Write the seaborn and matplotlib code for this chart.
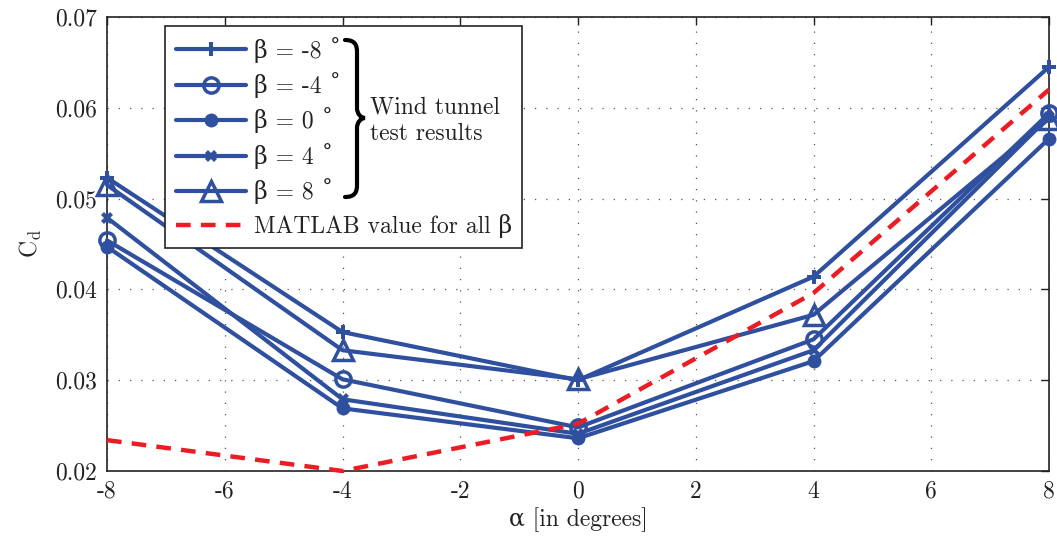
import numpy as np
import pandas as pd
import matplotlib
matplotlib.use("Agg")
import matplotlib.pyplot as plt
import seaborn as sns
from matplotlib.path import Path
from matplotlib.patches import PathPatch
from matplotlib.ticker import FormatStrFormatter

alpha = [-8, -4, 0, 4, 8]
cd_beta_m8 = [0.0523, 0.0353, 0.0300, 0.0414, 0.0645]
cd_beta_m4 = [0.0454, 0.0301, 0.0248, 0.0345, 0.0594]
cd_beta_0 = [0.0447, 0.0269, 0.0236, 0.0321, 0.0566]
cd_beta_4 = [0.0479, 0.0279, 0.0241, 0.0333, 0.0590]
cd_beta_8 = [0.0515, 0.0333, 0.0301, 0.0372, 0.0588]
cd_matlab = [0.0234, 0.0200, 0.0252, 0.0396, 0.0620]

labels = ['β = -8 ˚', 'β = -4 ˚', 'β = 0 ˚', 'β = 4 ˚', 'β = 8 ˚']
matlab_label = 'MATLAB value for all β'
brace_text = "Wind tunnel\ntest results"

sns.set_theme(style="white")
plt.rcParams['font.family'] = ['cmr10', 'DejaVu Serif', 'DejaVu Sans']
plt.rcParams['mathtext.fontset'] = 'cm'
plt.rcParams['axes.unicode_minus'] = False
plt.rcParams['axes.formatter.use_mathtext'] = True

BLUE = '#2f4f9f'
RED = '#ec1c24'
FS = 17
TXT = '#222222'

W, H = 1057, 536
fig = plt.figure(figsize=(W / 100, H / 100), dpi=100)
L, R, T, B = 107, 1049, 17, 471
ax = fig.add_axes([L / W, 1 - B / H, (R - L) / W, (B - T) / H])

series = [cd_beta_m8, cd_beta_m4, cd_beta_0, cd_beta_4, cd_beta_8]
styles = [
    dict(marker='P', markersize=10, fillstyle='full', mew=0),
    dict(marker='o', markersize=11, fillstyle='none', mew=2.5),
    dict(marker='o', markersize=10, fillstyle='full', mew=0),
    dict(marker='X', markersize=9, fillstyle='full', mew=0),
    dict(marker='^', markersize=15, fillstyle='none', mew=2.5),
]
for vals, lab, st in zip(series, labels, styles):
    sns.lineplot(x=alpha, y=vals, ax=ax, color=BLUE, lw=3, label=lab,
                 markeredgecolor=BLUE, markerfacecolor=BLUE if st['fillstyle'] == 'full' else 'none',
                 marker=st['marker'], markersize=st['markersize'], markeredgewidth=st['mew'],
                 clip_on=False, zorder=3)
sns.lineplot(x=alpha, y=cd_matlab, ax=ax, color=RED, lw=3.2, label=matlab_label,
             linestyle=(0, (3.3, 2.3)), clip_on=False, zorder=3)

ax.set_xlim(-8, 8)
ax.set_ylim(0.02, 0.07)
ax.set_xticks(np.arange(-8, 9, 2))
ax.set_yticks(np.arange(0.02, 0.0701, 0.01))
ax.xaxis.set_major_formatter(FormatStrFormatter('%d'))
ax.yaxis.set_major_formatter(FormatStrFormatter('%.2f'))
ax.tick_params(direction='in', length=6, width=1, top=True, right=True,
               labelsize=FS, colors=TXT, pad=7)
ax.grid(True, linestyle=(0, (1, 8)), color='#555555', lw=0.9)
for s in ax.spines.values():
    s.set_visible(True)
    s.set_color(TXT)
    s.set_linewidth(1.2)
ax.set_xlabel('α [in degrees]', fontsize=FS, color=TXT, labelpad=3)
ax.set_ylabel(r'C$_\mathrm{d}$', fontsize=FS, color=TXT, labelpad=8)

def px2ax(px, py):
    return ((px - L) / (R - L), (B - py) / (B - T))

leg = ax.legend(loc='upper left', bbox_to_anchor=px2ax(165, 26), borderaxespad=0,
                fontsize=FS, frameon=True, fancybox=False, edgecolor=TXT,
                handlelength=3.0, handletextpad=0.3, labelspacing=0.4,
                borderpad=0.45)
leg.get_frame().set_linewidth(1.2)
leg.get_frame().set_facecolor('white')
leg.get_frame().set_alpha(1)
for t in leg.get_texts():
    t.set_color(TXT)

# curly brace grouping wind tunnel entries
verts_px = [(345, 40), (355, 40), (357, 45), (357, 52),
            (357, 108),
            (357, 114), (361, 118), (365, 118),
            (361, 118), (357, 122), (357, 128),
            (357, 185),
            (357, 192), (355, 197), (345, 197)]
codes = [Path.MOVETO, Path.CURVE4, Path.CURVE4, Path.CURVE4,
         Path.LINETO,
         Path.CURVE4, Path.CURVE4, Path.CURVE4,
         Path.CURVE4, Path.CURVE4, Path.CURVE4,
         Path.LINETO,
         Path.CURVE4, Path.CURVE4, Path.CURVE4]
verts = [px2ax(x, y) for x, y in verts_px]
brace = PathPatch(Path(verts, codes), transform=ax.transAxes, fill=False,
                  lw=3, edgecolor='black', zorder=10, capstyle='round')
ax.add_artist(brace)
ax.text(*px2ax(370, 121), brace_text, transform=ax.transAxes, fontsize=FS,
        ha='left', va='center', color=TXT, zorder=11, linespacing=1.25)

fig.savefig('out.png', dpi=100)
